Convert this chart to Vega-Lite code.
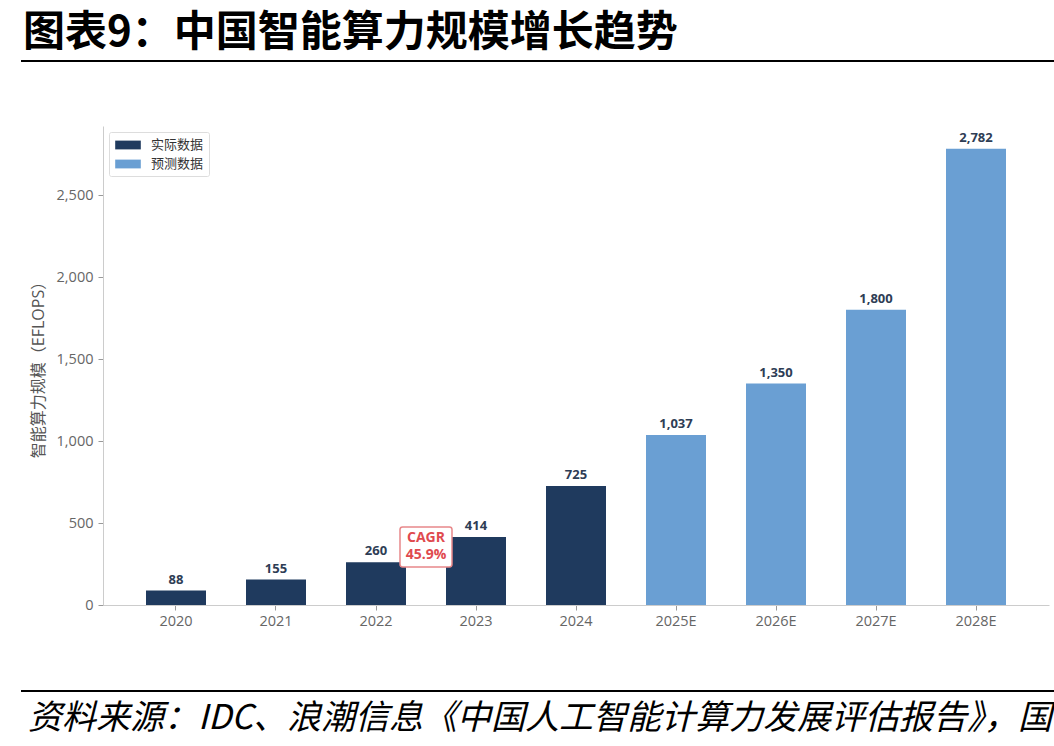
{
  "$schema": "https://vega.github.io/schema/vega-lite/v6.json",
  "background": "white",
  "padding": {"left": 20, "top": 12, "right": 0, "bottom": 0},
  "config": {
    "view": {"stroke": null},
    "font": "Open Sans, Noto Sans CJK SC"
  },
  "spacing": 60,
  "resolve": {"scale": {"color": "independent"}, "legend": {"color": "independent"}},
  "vconcat": [
    {
      "width": 946,
      "height": 10,
      "title": {
        "text": "图表9：中国智能算力规模增长趋势",
        "anchor": "start",
        "frame": "group",
        "font": "Noto Sans CJK SC",
        "fontSize": 42,
        "fontWeight": "bold",
        "color": "#000000",
        "dx": -80,
        "offset": 1
      },
      "data": {"values": [{"from": 0, "to": 1}]},
      "mark": {"type": "rule", "color": "#000000", "strokeWidth": 2},
      "encoding": {
        "x": {"field": "from", "type": "quantitative", "axis": null, "scale": {"domain": [0, 1], "nice": false, "range": [-82, 952]}},
        "x2": {"field": "to"}
      }
    },
    {
      "width": 946,
      "height": 479,
      "data": {
        "values": [
          {"year": "2020", "value": 88, "type": "实际数据"},
          {"year": "2021", "value": 155, "type": "实际数据"},
          {"year": "2022", "value": 260, "type": "实际数据"},
          {"year": "2023", "value": 414, "type": "实际数据"},
          {"year": "2024", "value": 725, "type": "实际数据"},
          {"year": "2025E", "value": 1037, "type": "预测数据"},
          {"year": "2026E", "value": 1350, "type": "预测数据"},
          {"year": "2027E", "value": 1800, "type": "预测数据"},
          {"year": "2028E", "value": 2782, "type": "预测数据"}
        ]
      },
      "encoding": {
        "x": {
          "field": "year",
          "type": "nominal",
          "sort": null,
          "scale": {"paddingInner": 0.4, "paddingOuter": 0.43},
          "axis": {
            "title": null,
            "labelAngle": 0,
            "labelFontSize": 14.5,
            "labelColor": "#666666",
            "labelPadding": 4,
            "tickColor": "#999999",
            "tickSize": 5,
            "domainColor": "#cccccc"
          }
        },
        "y": {
          "field": "value",
          "type": "quantitative",
          "scale": {"domain": [0, 2921], "nice": false},
          "axis": {
            "title": "智能算力规模（EFLOPS）",
            "titleFontSize": 16,
            "titleFontWeight": "normal",
            "titleColor": "#555555",
            "titlePadding": 10,
            "values": [0, 500, 1000, 1500, 2000, 2500],
            "format": ",.0f",
            "labelFontSize": 14.5,
            "labelColor": "#666666",
            "labelPadding": 5,
            "tickColor": "#999999",
            "tickSize": 5,
            "domainColor": "#cccccc",
            "grid": false
          }
        }
      },
      "layer": [
        {
          "mark": {"type": "bar"},
          "encoding": {
            "color": {
              "field": "type",
              "type": "nominal",
              "scale": {"domain": ["实际数据", "预测数据"], "range": ["#1f3a5e", "#6a9fd3"]},
              "legend": {
                "title": null,
                "orient": "top-left",
                "offset": 6,
                "padding": 5,
                "strokeColor": "#dddddd",
                "fillColor": "#ffffff",
                "cornerRadius": 2,
                "symbolType": "M-1.6,-0.55H1.6V0.55H-1.6Z",
                "symbolSize": 256,
                "symbolStrokeWidth": 0,
                "symbolOffset": 6,
                "labelFontSize": 13,
                "labelColor": "#333333",
                "labelOffset": 15,
                "rowPadding": 4
              }
            }
          }
        },
        {
          "mark": {"type": "text", "dy": -11, "fontSize": 13, "fontWeight": "bold", "color": "#2e3d55"},
          "encoding": {"text": {"field": "value", "format": ","}}
        },
        {
          "data": {"values": [{"year": "2022", "value": 354, "note": ["CAGR", "45.9%"]}]},
          "layer": [
            {
              "mark": {
                "type": "point",
                "filled": true,
                "xOffset": 50,
                "shape": "M-0.9,-0.77H0.9Q1,-0.77 1,-0.67V0.67Q1,0.77 0.9,0.77H-0.9Q-1,0.77 -1,0.67V-0.67Q-1,-0.77 -0.9,-0.77Z",
                "size": 2704,
                "fill": "#ffffff",
                "stroke": "#e8888a",
                "strokeWidth": 1.5,
                "opacity": 1
              },
              "encoding": {}
            },
            {
              "mark": {"type": "text", "xOffset": 50, "dy": -8.5, "fontSize": 14, "fontWeight": "bold", "color": "#e04a4f", "lineHeight": 17, "baseline": "middle"},
              "encoding": {"text": {"field": "note"}}
            }
          ]
        }
      ]
    },
    {
      "width": 946,
      "height": 6,
      "title": {
        "text": ["资料来源：IDC、浪潮信息《中国人工智能计算力发展评估报告》，国", "金证券研究所"],
        "orient": "bottom",
        "anchor": "start",
        "frame": "group",
        "font": "Noto Sans CJK SC",
        "fontSize": 34,
        "fontStyle": "italic",
        "fontWeight": "normal",
        "lineHeight": 46,
        "color": "#000000",
        "dx": -75,
        "offset": 8
      },
      "data": {"values": [{"from": 0, "to": 1}]},
      "mark": {"type": "rule", "color": "#000000", "strokeWidth": 2},
      "encoding": {
        "x": {"field": "from", "type": "quantitative", "axis": null, "scale": {"domain": [0, 1], "nice": false, "range": [-82, 952]}},
        "x2": {"field": "to"}
      }
    }
  ]
}
